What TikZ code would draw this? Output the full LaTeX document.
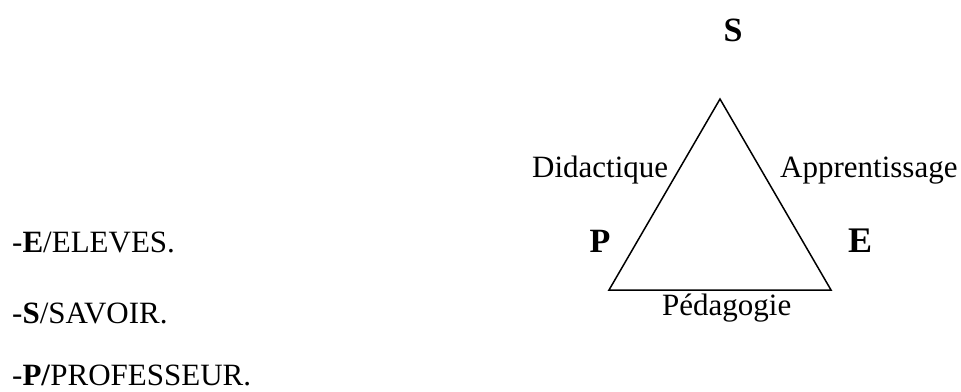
\documentclass[tikz,border=0pt]{standalone}
\usepackage{fontspec}
\setmainfont{Liberation Serif}
\tikzset{
  lbl/.style={font=\fontsize{31}{36}\selectfont, inner sep=0pt, anchor=base west},
  vtx/.style={font=\fontsize{34}{40}\bfseries\selectfont, inner sep=0pt, anchor=base},
  edge/.style={line width=1.5pt, line join=miter}
}
\begin{document}
\begin{tikzpicture}[x=1pt,y=-1pt]
\useasboundingbox (0,0) rectangle (961,391);
% triangle
\coordinate (top) at (720,99);
\coordinate (bl) at (609,290);
\coordinate (br) at (831,290);
\draw[edge] (top) -- (bl) -- (br) -- cycle;
% vertex letters
\node[vtx] (S) at (733,41) {S};
\node[vtx] (P) at (600,252) {P};
\node[vtx, font=\fontsize{36}{40}\bfseries\selectfont] (E) at (860,252) {E};
% side labels
\node[lbl] (did) at (532,177) {Didactique};
\node[lbl] (app) at (780,177) {Apprentissage};
\node[lbl] (ped) at (662,315) {Pédagogie};
% legend
\node[lbl] (l1) at (12,252) {-\textbf{E}/ELEVES.};
\node[lbl] (l2) at (12,323) {-\textbf{S}/SAVOIR.};
\node[lbl] (l3) at (12,385) {-\textbf{P/}PROFESSEUR.};
\end{tikzpicture}
\end{document}
